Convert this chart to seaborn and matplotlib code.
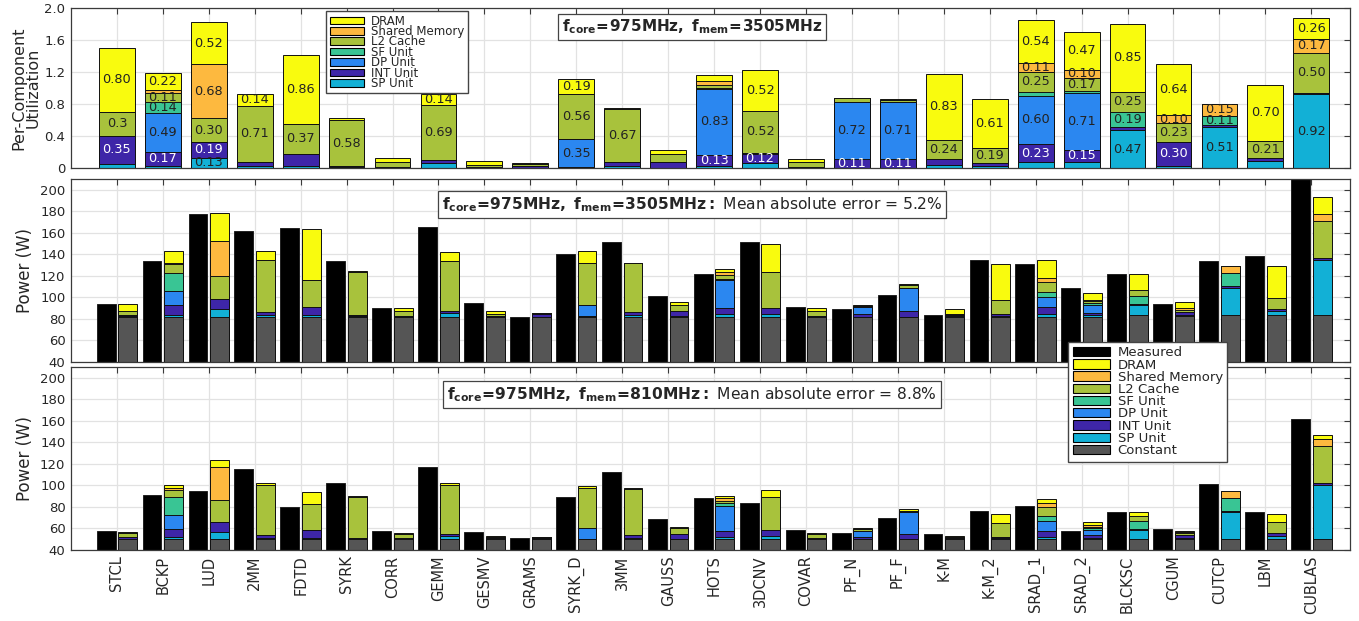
import numpy as np
import matplotlib
matplotlib.use('Agg')
import matplotlib.pyplot as plt
from matplotlib.patches import Patch
import seaborn as sns

benchmarks = ['STCL', 'BCKP', 'LUD', '2MM', 'FDTD', 'SYRK', 'CORR', 'GEMM', 'GESMV',
              'GRAMS', 'SYRK_D', '3MM', 'GAUSS', 'HOTS', '3DCNV', 'COVAR', 'PF_N', 'PF_F',
              'K-M', 'K-M_2', 'SRAD_1', 'SRAD_2', 'BLCKSC', 'CGUM', 'CUTCP', 'LBM', 'CUBLAS']
components = ['SP Unit', 'INT Unit', 'DP Unit', 'SF Unit', 'L2 Cache', 'Shared Memory', 'DRAM']

# per-component utilization, fcore=975MHz fmem=3505MHz
util_sp = [0.05, 0.03, 0.13, 0.03, 0.02, 0.01, 0.00, 0.06, 0.00, 0.00, 0.01, 0.03, 0.00, 0.03,
           0.06, 0.00, 0.00, 0.00, 0.04, 0.02, 0.07, 0.08, 0.47, 0.03, 0.51, 0.09, 0.92]
util_int = [0.35, 0.17, 0.19, 0.04, 0.16, 0.01, 0.01, 0.04, 0.01, 0.03, 0.00, 0.04, 0.08, 0.13,
            0.12, 0.01, 0.11, 0.11, 0.07, 0.04, 0.23, 0.15, 0.04, 0.30, 0.03, 0.04, 0.02]
util_dp = [0.00, 0.49, 0.00, 0.00, 0.00, 0.00, 0.00, 0.00, 0.00, 0.00, 0.35, 0.00, 0.00, 0.83,
           0.01, 0.00, 0.72, 0.71, 0.00, 0.00, 0.60, 0.71, 0.00, 0.00, 0.00, 0.00, 0.00]
util_sf = [0.00, 0.14, 0.00, 0.00, 0.00, 0.00, 0.00, 0.00, 0.00, 0.00, 0.00, 0.00, 0.00, 0.01,
           0.00, 0.00, 0.00, 0.00, 0.00, 0.00, 0.05, 0.02, 0.19, 0.00, 0.11, 0.00, 0.00]
util_l2 = [0.30, 0.11, 0.30, 0.71, 0.37, 0.58, 0.07, 0.69, 0.03, 0.02, 0.56, 0.67, 0.09, 0.04,
           0.52, 0.06, 0.04, 0.03, 0.24, 0.19, 0.25, 0.17, 0.25, 0.23, 0.00, 0.21, 0.50]
util_shm = [0.00, 0.03, 0.68, 0.00, 0.00, 0.00, 0.00, 0.00, 0.00, 0.00, 0.00, 0.00, 0.00, 0.05,
            0.00, 0.00, 0.00, 0.00, 0.00, 0.00, 0.11, 0.10, 0.00, 0.10, 0.15, 0.00, 0.17]
util_dram = [0.80, 0.22, 0.52, 0.14, 0.86, 0.02, 0.04, 0.14, 0.05, 0.01, 0.19, 0.01, 0.05, 0.07,
             0.52, 0.045, 0.01, 0.01, 0.83, 0.61, 0.54, 0.47, 0.85, 0.64, 0.00, 0.70, 0.26]
label_override = {('STCL', 'L2 Cache'): '0.3'}
label_skip = {('FDTD', 'INT Unit')}

# power (W), fcore=975MHz fmem=3505MHz
measured_3505 = [94, 133.5, 177, 162, 164, 134, 90, 165, 94.4, 82, 140, 151, 101, 121.4, 151,
                 91.3, 88.8, 102, 84, 134.7, 131, 108.3, 121.4, 93.4, 133.8, 138, 211]
const_3505 = [82, 82, 82, 82, 82, 82, 82, 82, 82, 82, 82, 82, 82, 82, 82, 82, 82, 82, 82, 82,
              82, 82, 84, 83, 84, 84, 84]
pw_sp_3505 = [0.5, 2, 7.2, 1.2, 1.2, 0.6, 0.4, 3.4, 0, 0, 0.5, 1.5, 0.3, 2.7, 2.7, 0.3, 0, 0,
              0.8, 1.0, 2.4, 1.5, 8.5, 0.5, 24.7, 3.6, 50.5]
pw_int_3505 = [1.5, 8.5, 9.6, 3.1, 8.1, 0.6, 0.6, 1.8, 0.6, 2.2, 0, 2.8, 4.6, 5.6, 5.6, 0.7,
               2.7, 5.5, 0.7, 2.0, 6.5, 2.2, 1.3, 2.5, 1.5, 1.8, 2.2]
pw_dp_3505 = [0, 13.7, 0, 0, 0, 0, 0, 0, 0, 0, 10.0, 0, 0, 25.5, 0.3, 0, 6.2, 21.5, 0, 0, 9.7,
              6.8, 0, 0, 0, 0, 0]
pw_sf_3505 = [0, 16.1, 0, 0, 0, 0, 0, 0, 0, 0, 0, 0, 0, 1.6, 0, 0, 0.5, 0, 0, 0, 4.6, 1.9, 7.7,
              0, 12.1, 0, 0]
pw_l2_3505 = [3.5, 8.4, 20.8, 48.4, 25.1, 40.1, 4.8, 46.6, 1.8, 1.5, 39.8, 45.3, 5.6, 3.1, 32.6,
              4.2, 1.0, 2.8, 1.2, 12.8, 9.4, 2.4, 5.0, 2.5, 0.3, 10.0, 34.4]
pw_shm_3505 = [0, 1.6, 32.7, 0, 0, 0, 0, 0, 0, 0, 0, 0, 0, 3.1, 0, 0, 0, 0, 0, 0, 3.1, 1.0, 0,
               1.2, 6.3, 0, 6.8]
pw_dram_3505 = [6.5, 11.1, 25.7, 8.1, 46.9, 1.5, 2.5, 8.1, 2.9, 0.2, 10.8, 0.7, 3.1, 3.1, 26.1,
                2.8, 0.7, 0.9, 4.4, 33.2, 17.0, 5.9, 15.3, 6.0, 0, 29.5, 14.9]

# power (W), fcore=975MHz fmem=810MHz
measured_810 = [57.3, 90.8, 95.1, 114.9, 79.9, 102.2, 57.6, 117.1, 56.7, 51.1, 89.2, 112.4, 68.5,
                88.6, 83.9, 58.6, 56.1, 69.4, 54.5, 76.2, 81.2, 58.0, 75.3, 59.5, 101.6, 75.6, 161.3]
const_810 = [50] * 27
pw_sp_810 = [0.5, 1.8, 7.0, 1.5, 1.1, 0.6, 0.5, 3.0, 0, 0, 0.3, 1.5, 0.3, 2.4, 2.7, 0.4, 0, 0,
             0.5, 0.8, 2.4, 1.2, 8.6, 1.3, 25.0, 3.3, 50.4]
pw_int_810 = [1.9, 7.4, 9.0, 2.1, 7.8, 0.5, 0.6, 2.2, 1.2, 1.5, 0, 2.7, 4.9, 5.6, 5.6, 0.7, 2.4,
              4.8, 0.7, 1.7, 5.6, 2.7, 0.9, 2.2, 1.5, 2.2, 1.5]
pw_dp_810 = [0, 13.0, 0, 0, 0, 0, 0, 0, 0, 0, 9.8, 0, 0, 22.9, 0, 0, 5.6, 20.1, 0, 0, 9.2, 4.7,
             0, 0, 0, 0, 0]
pw_sf_810 = [0, 16.7, 0, 0, 0, 0, 0, 0, 0, 0, 0, 0, 0, 2.4, 0, 0, 0, 0, 0, 0, 4.4, 1.5, 7.4, 0,
             12.1, 0, 0]
pw_l2_810 = [3.1, 6.8, 20.1, 47.1, 23.8, 38.4, 3.8, 45.2, 1.0, 0.6, 37.2, 42.8, 5.2, 2.2, 30.9,
             3.8, 1.5, 1.8, 1.2, 13.0, 8.6, 1.6, 5.0, 2.3, 0, 10.8, 34.7]
pw_shm_810 = [0, 2.2, 31.0, 0, 0, 0, 0, 0, 0, 0, 0, 0, 0, 2.8, 0, 0, 0, 0, 0, 0, 3.7, 1.5, 0,
              0.6, 6.6, 0, 6.5]
pw_dram_810 = [1.5, 2.5, 6.5, 1.5, 10.8, 0.6, 0.9, 1.5, 0.5, 0, 2.4, 0.6, 0.6, 1.5, 6.2, 0.9,
               0.6, 1.0, 1.0, 7.7, 3.8, 2.5, 3.8, 0.9, 0, 6.8, 3.4]

colors = {'Measured': '#000000', 'DRAM': '#F9FB0E', 'Shared Memory': '#FDB93F',
          'L2 Cache': '#A8C23C', 'SF Unit': '#39C594', 'DP Unit': '#2B87F0',
          'INT Unit': '#3E26A8', 'SP Unit': '#12B0D6', 'Constant': '#555555'}

sns.set_theme(style='whitegrid')
plt.rcParams['font.family'] = ['DejaVu Sans']
plt.rcParams['mathtext.fontset'] = 'dejavusans'


def stacked(ax, x, layers, names, width):
    cum = np.cumsum(np.array(layers, dtype=float), axis=0)
    for level, name in zip(cum[::-1], names[::-1]):
        sns.barplot(x=x, y=level, color=colors[name], width=width, native_scale=True,
                    orient='x', saturation=1, errorbar=None, edgecolor='#111111',
                    linewidth=0.7, ax=ax)
    return cum


def style_axis(ax):
    ax.grid(True, color='#e2e2e2', linewidth=0.9)
    ax.set_axisbelow(True)
    for s in ax.spines.values():
        s.set_color('#3a3a3a')
        s.set_linewidth(0.9)
    ax.tick_params(direction='in', top=True, right=True, length=4, width=0.8,
                   color='#3a3a3a', labelsize=9.5)
    ax.tick_params(axis='y', pad=4)
    ax.tick_params(axis='x', pad=4)
    ax.set_xticks(pos)
    ax.set_xlim(0, 27.84)
    ax.set_xlabel('')


fig = plt.figure(figsize=(13.59, 6.21), dpi=100)
ax_u = fig.add_axes([0.0522, 0.7295, 0.9411, 0.2577])
ax_a = fig.add_axes([0.0522, 0.4171, 0.9411, 0.2947])
ax_b = fig.add_axes([0.0522, 0.1143, 0.9411, 0.2947])

pos = np.arange(1, len(benchmarks) + 1)

# top: utilization
util_layers = [util_sp, util_int, util_dp, util_sf, util_l2, util_shm, util_dram]
cum = stacked(ax_u, pos, util_layers, components, 0.78)
for k, name in enumerate(components):
    for i, b in enumerate(benchmarks):
        v = util_layers[k][i]
        if v < 0.095 or (b, name) in label_skip:
            continue
        txt = label_override.get((b, name), f'{v:.2f}')
        ax_u.text(pos[i], cum[k][i] - v / 2, txt, ha='center', va='center', fontsize=9.3,
                  color='white' if name == 'INT Unit' else '#222222')
style_axis(ax_u)
ax_u.set_ylim(0, 2.0)
ax_u.set_yticks([0, 0.4, 0.8, 1.2, 1.6, 2.0])
ax_u.set_yticklabels(['0', '0.4', '0.8', '1.2', '1.6', '2.0'])
ax_u.set_xticklabels([])
ax_u.set_ylabel('Per-Component\nUtilization', fontsize=11.5, linespacing=1.0)
ax_u.yaxis.set_label_coords(-0.0235, 0.5)

box = dict(boxstyle='square,pad=0.25', facecolor='white', edgecolor='#444444', linewidth=0.9)
ax_u.text(0.4855, 0.881, r'$\mathbf{f_{core}\!=\!975MHz,\ f_{mem}\!=\!3505MHz}$',
          transform=ax_u.transAxes, ha='center', va='center', fontsize=11, bbox=box)

# middle / bottom: power
power_names = ['Constant'] + components
panels = [
    (ax_a, measured_3505, [const_3505, pw_sp_3505, pw_int_3505, pw_dp_3505, pw_sf_3505,
                           pw_l2_3505, pw_shm_3505, pw_dram_3505],
     r'$\mathbf{f_{core}\!=\!975MHz,\ f_{mem}\!=\!3505MHz:}$ Mean absolute error = 5.2%', 0.861),
    (ax_b, measured_810, [const_810, pw_sp_810, pw_int_810, pw_dp_810, pw_sf_810,
                          pw_l2_810, pw_shm_810, pw_dram_810],
     r'$\mathbf{f_{core}\!=\!975MHz,\ f_{mem}\!=\!810MHz:}$ Mean absolute error = 8.8%', 0.85),
]
for ax, measured, layers, title, ty in panels:
    sns.barplot(x=pos - 0.235, y=measured, color='black', width=0.41, native_scale=True,
                orient='x', saturation=1, errorbar=None, edgecolor='#222222', linewidth=0.7,
                ax=ax)
    stacked(ax, pos + 0.235, layers, power_names, 0.41)
    style_axis(ax)
    ax.set_ylim(40, 210)
    ax.set_yticks(range(40, 201, 20))
    ax.set_ylabel('Power (W)', fontsize=12)
    ax.yaxis.set_label_coords(-0.029, 0.5)
    ax.text(0.4855, ty, title, transform=ax.transAxes, ha='center', va='center',
            fontsize=11.2, bbox=box)

ax_a.set_xticklabels([])
ax_b.set_xticklabels(benchmarks, rotation=90, fontsize=10.5)

top_order = ['DRAM', 'Shared Memory', 'L2 Cache', 'SF Unit', 'DP Unit', 'INT Unit', 'SP Unit']
top_handles = [Patch(facecolor=colors[n], edgecolor='black', linewidth=0.8, label=n)
               for n in top_order]
fig.legend(handles=top_handles, loc='upper left', bbox_to_anchor=(0.2399, 0.9823),
           fontsize=8.5, frameon=True, fancybox=False, edgecolor='#444444', framealpha=1,
           borderaxespad=0, borderpad=0.3, labelspacing=-0.22, handlelength=2.9,
           handleheight=0.6, handletextpad=0.6)

power_order = ['Measured'] + top_order + ['Constant']
power_handles = [Patch(facecolor=colors[n], edgecolor='black', linewidth=0.8, label=n)
                 for n in power_order]
fig.legend(handles=power_handles, loc='upper left', bbox_to_anchor=(0.7859, 0.4498),
           fontsize=9.5, frameon=True, fancybox=False, edgecolor='#444444', framealpha=1,
           borderaxespad=0, borderpad=0.35, labelspacing=-0.06, handlelength=2.8,
           handleheight=0.7, handletextpad=0.6)

fig.savefig('out.png', dpi=100)
plt.close(fig)
